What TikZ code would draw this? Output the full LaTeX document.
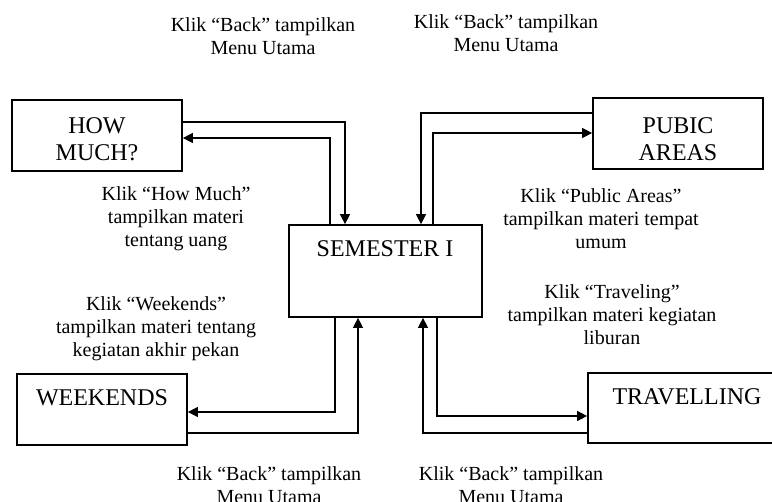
\documentclass[tikz,border=0pt]{standalone}
\usepackage{fontspec}
\setmainfont{Liberation Serif}
\usetikzlibrary{arrows.meta}
\begin{document}
\begin{tikzpicture}[x=1pt,y=-1pt,
  box/.style={draw,line width=1.7pt,rectangle,inner sep=0pt},
  boxtext/.style={align=center,inner sep=0pt,font=\fontsize{24}{27}\selectfont},
  note/.style={align=center,inner sep=0pt,font=\fontsize{20}{23}\selectfont},
  link/.style={line width=1.1pt,-{Triangle[length=10pt,width=10pt]}}]
\useasboundingbox (0,0) rectangle (772,502);
\clip (0,0) rectangle (772,502);

% menu boxes
\node[box,minimum width=170,minimum height=71] (how) at (97,135.5) {};
\node[boxtext] (howtxt) at (97,139) {HOW\\MUCH?};
\node[box,minimum width=170,minimum height=71] (pub) at (678,133.5) {};
\node[boxtext] (pubtxt) at (678,139) {PUBIC\\AREAS};
\node[box,minimum width=193,minimum height=92] (sem) at (385.5,271) {};
\node[boxtext] (semtxt) at (385,249) {SEMESTER I};
\node[box,minimum width=170,minimum height=71] (wk) at (102,409.5) {};
\node[boxtext] (wktxt) at (102,398) {WEEKENDS};
\node[box,minimum width=204,minimum height=70] (trv) at (690,408) {};
\node[boxtext] (trvtxt) at (687,397) {TRAVELLING};

% bend points of the connectors
\coordinate (a1) at (345,122);
\coordinate (a2) at (330,138);
\coordinate (a3) at (421,113);
\coordinate (a4) at (433,133);
\coordinate (a5) at (335,412);
\coordinate (a6) at (358,433);
\coordinate (a7) at (437,416);
\coordinate (a8) at (423,433);

% connectors
\draw[link] (how.east |- a1) -| (a1 |- sem.north);
\draw[link] (a2 |- sem.north) |- (how.east |- a2);
\draw[link] (pub.west |- a3) -| (a3 |- sem.north);
\draw[link] (a4 |- sem.north) |- (pub.west |- a4);
\draw[link] (a5 |- sem.south) |- (wk.east |- a5);
\draw[link] (wk.east |- a6) -| (a6 |- sem.south);
\draw[link] (a7 |- sem.south) |- (trv.west |- a7);
\draw[link] (trv.west |- a8) -| (a8 |- sem.south);

% captions
\node[note] (backtl) at (263,36.5) {Klik “Back” tampilkan\\Menu Utama};
\node[note] (backtr) at (506,33.5) {Klik “Back” tampilkan\\Menu Utama};
\node[note] (howcap) at (176,219) {Klik “How Much”\\tampilkan materi\\tentang uang};
\node[note] (pubcap) at (601,219) {Klik “Public Areas”\\tampilkan materi tempat\\umum};
\node[note] (wkcap) at (156,329) {Klik “Weekends”\\tampilkan materi tentang\\kegiatan akhir pekan};
\node[note] (trvcap) at (612,315) {Klik “Traveling”\\tampilkan materi kegiatan\\liburan};
\node[note] (backbl) at (269,485) {Klik “Back” tampilkan\\Menu Utama};
\node[note] (backbr) at (511,485) {Klik “Back” tampilkan\\Menu Utama};
\end{tikzpicture}
\end{document}
